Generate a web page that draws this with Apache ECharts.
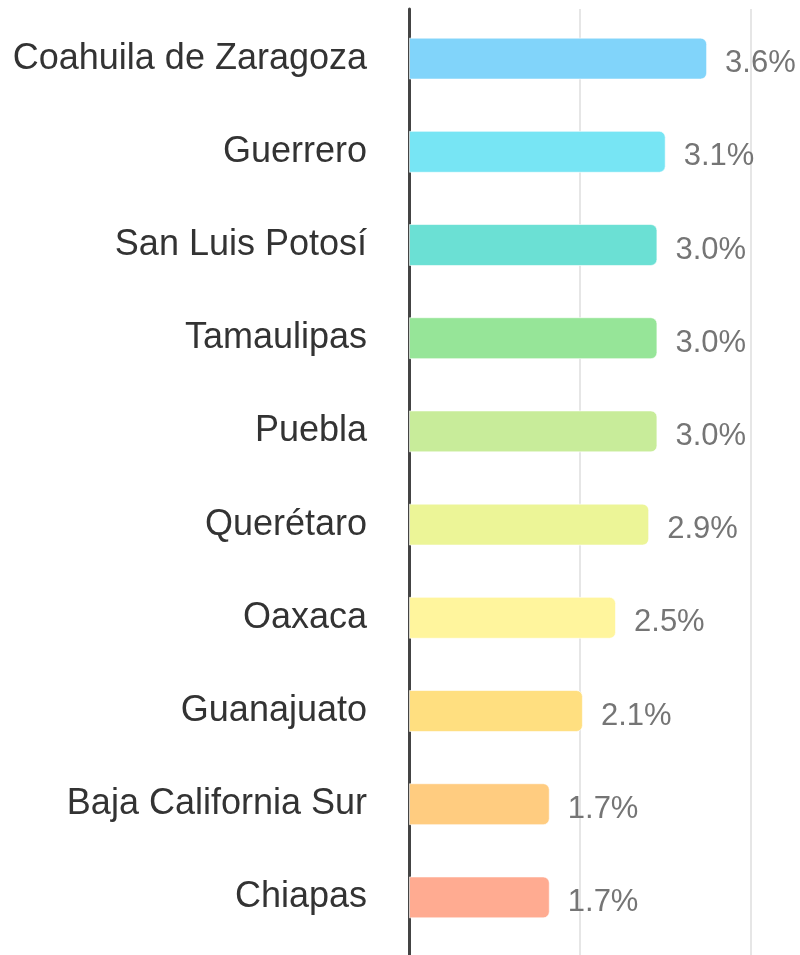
<!DOCTYPE html>
<html>
<head>
<meta charset="utf-8">
<script src="https://cdn.jsdelivr.net/npm/echarts@6/dist/echarts.min.js"></script>
<style>
  html, body { margin: 0; padding: 0; background: #fff; }
  #chart { width: 800px; height: 955px; }
</style>
</head>
<body>
<div id="chart"></div>
<script>
const states = ['Coahuila de Zaragoza', 'Guerrero', 'San Luis Potosí', 'Tamaulipas', 'Puebla',
  'Querétaro', 'Oaxaca', 'Guanajuato', 'Baja California Sur', 'Chiapas']
const shares = [3.6, 3.1, 3.0, 3.0, 3.0, 2.9, 2.5, 2.1, 1.7, 1.7]
const barColors = ['#81D4FA', '#77E5F4', '#6BE0D4', '#96E598', '#C8EC9A',
  '#ECF597', '#FFF59D', '#FFDF80', '#FFCC80', '#FFAB91']

const axisMax = 4.13
const fontFamily = '"Liberation Sans", Arial, sans-serif'

const mychart = echarts.init(document.getElementById('chart'))
mychart.setOption({
  animation: false,
  grid: [
    { left: 409, right: 49, top: 12, bottom: 11 },
    { left: 409, right: 49, top: 9, bottom: 0 }
  ],
  xAxis: [{
    gridIndex: 0,
    type: 'value',
    min: 0,
    max: axisMax,
    show: false
  }, {
    gridIndex: 1,
    type: 'value',
    min: 0,
    max: axisMax,
    interval: axisMax / 2,
    axisLine: { show: false },
    axisTick: { show: false },
    axisLabel: { show: false },
    splitLine: { show: true, lineStyle: { color: '#e6e6e6', width: 2 } }
  }],
  yAxis: [{
    gridIndex: 0,
    type: 'category',
    inverse: true,
    data: states,
    axisLine: { show: false },
    axisTick: { show: false },
    axisLabel: {
      margin: 42,
      color: '#333',
      fontSize: 36,
      fontFamily
    }
  }, {
    gridIndex: 1,
    type: 'value',
    axisLine: { show: true, lineStyle: { color: '#444', width: 3 } },
    axisTick: { show: false },
    axisLabel: { show: false },
    splitLine: { show: false }
  }],
  series: [{
    type: 'bar',
    xAxisIndex: 0,
    yAxisIndex: 0,
    barWidth: '45%',
    z: 1,
    data: shares.map((v, i) => ({
      value: v,
      itemStyle: { color: barColors[i] }
    })),
    itemStyle: {
      borderRadius: [0, 6, 6, 0],
      borderColor: 'rgba(255,255,255,0.6)',
      borderWidth: 1
    },
    label: {
      show: true,
      position: 'right',
      distance: 18,
      offset: [0, 5],
      color: '#757575',
      fontSize: 31,
      fontFamily,
      formatter: p => p.value.toFixed(1) + '%'
    }
  }]
})
</script>
</body>
</html>
